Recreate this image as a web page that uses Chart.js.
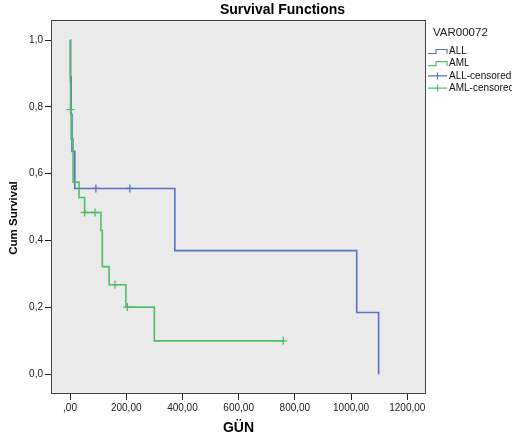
<!DOCTYPE html>
<html><head><meta charset="utf-8">
<script src="https://cdn.jsdelivr.net/npm/chart.js@4"></script>
<style>html,body{margin:0;padding:0;background:#fff;}</style>
</head><body>
<canvas id="c" width="512" height="443"></canvas>
<script>
// ---- data ----
const allTimes = [0, 2, 4, 7, 17, 373, 1020, 1098];
const allSurv  = [1, 0.889, 0.778, 0.667, 0.556, 0.370, 0.185, 0.0];
const allCensTimes = [92, 213];
const allCensSurv  = [0.556, 0.556];

const amlTimes = [0, 1, 2, 4, 11, 32, 52, 110, 115, 139, 199, 300, 759];
const amlSurv  = [1, 0.875, 0.792, 0.704, 0.575, 0.529, 0.484, 0.430, 0.322, 0.268, 0.201, 0.100, 0.100];
const amlCensTimes = [2, 52, 89, 160, 204, 759];
const amlCensSurv  = [0.792, 0.484, 0.484, 0.268, 0.201, 0.100];

const xTicks = [0, 200, 400, 600, 800, 1000, 1200];
const yTicks = [0, 0.2, 0.4, 0.6, 0.8, 1.0];
const seriesNames = ['ALL', 'AML', 'ALL-censored', 'AML-censored'];
const legendTitle = 'VAR00072';
const chartTitle = 'Survival Functions';
const xTitle = 'GÜN';
const yTitle = 'Cum Survival';

const BLUE = '#5A72C4';
const GREEN = '#52BD68';
const FONT = '"Liberation Sans", Arial, sans-serif';

const pts = (xs, ys) => xs.map((x, i) => ({x: x, y: ys[i]}));

const framePlugin = {
  id: 'frame',
  beforeDraw(chart) {
    const {ctx, chartArea: a} = chart;
    ctx.save();
    ctx.fillStyle = '#EAEAEA';
    ctx.fillRect(a.left, a.top, a.right - a.left, a.bottom - a.top);
    ctx.restore();
  },
  afterDraw(chart) {
    const {ctx, chartArea: a} = chart;
    ctx.save();
    ctx.strokeStyle = '#444';
    ctx.lineWidth = 1;
    ctx.strokeRect(a.left + 0.5, a.top + 0.5, a.right - a.left - 1, a.bottom - a.top - 1);
    // title
    ctx.fillStyle = '#000';
    ctx.font = 'bold 14px ' + FONT;
    ctx.textAlign = 'center';
    ctx.textBaseline = 'middle';
    ctx.fillText(chartTitle, 282.5, 10);
    // y axis title
    ctx.save();
    ctx.translate(14, 218);
    ctx.rotate(-Math.PI / 2);
    ctx.font = 'bold 11.5px ' + FONT;
    ctx.fillText(yTitle, 0, 0);
    ctx.restore();
    // legend
    ctx.font = '11.5px ' + FONT;
    ctx.textAlign = 'left';
    ctx.fillStyle = '#222';
    ctx.fillText(legendTitle, 433, 33);
    ctx.font = '10px ' + FONT;
    const colors = [BLUE, GREEN, BLUE, GREEN];
    seriesNames.forEach((name, i) => {
      const y = 51.5 + i * 12.2;
      ctx.strokeStyle = colors[i];
      ctx.lineWidth = 1.2;
      ctx.beginPath();
      if (i < 2) {
        ctx.moveTo(428, y + 2); ctx.lineTo(436, y + 2); ctx.lineTo(436, y - 2);
        ctx.lineTo(447, y - 2); ctx.lineTo(447, y + 2);
      } else {
        ctx.moveTo(428, y); ctx.lineTo(447, y);
        ctx.moveTo(437.5, y - 3.5); ctx.lineTo(437.5, y + 3.5);
      }
      ctx.stroke();
      ctx.fillStyle = '#111';
      ctx.fillText(name, 449, y);
    });
    ctx.restore();
  }
};

new Chart(document.getElementById('c'), {
  data: {
    datasets: [
      {type: 'scatter', label: seriesNames[3], data: pts(amlCensTimes, amlCensSurv), borderColor: GREEN, backgroundColor: GREEN, pointStyle: 'cross', pointRadius: 4, pointBorderWidth: 1.3, order: 0},
      {type: 'scatter', label: seriesNames[2], data: pts(allCensTimes, allCensSurv), borderColor: BLUE, backgroundColor: BLUE, pointStyle: 'cross', pointRadius: 4, pointBorderWidth: 1.3, order: 1},
      {type: 'line', label: seriesNames[1], data: pts(amlTimes, amlSurv), borderColor: GREEN, borderWidth: 1.6, stepped: 'before', pointRadius: 0, fill: false, order: 2},
      {type: 'line', label: seriesNames[0], data: pts(allTimes, allSurv), borderColor: BLUE, borderWidth: 1.6, stepped: 'before', pointRadius: 0, fill: false, order: 3}
    ]
  },
  options: {
    responsive: false,
    animation: false,
    devicePixelRatio: 1,
    layout: {padding: {top: 20, right: 86, left: 0, bottom: 0}},
    plugins: {legend: {display: false}, tooltip: {enabled: false}, title: {display: false}},
    scales: {
      x: {
        type: 'linear', min: -67.6, max: 1266.5,
        afterBuildTicks: s => { s.ticks = xTicks.map(v => ({value: v})); },
        afterFit: s => { s.height = 49; },
        ticks: {
          callback: v => v === 0 ? ',00' : v.toFixed(2).replace('.', ','),
          font: {family: FONT, size: 10}, color: '#222', padding: 2, maxRotation: 0, autoSkip: false
        },
        grid: {drawOnChartArea: false, drawTicks: true, tickLength: 6, tickColor: '#222', color: '#222'},
        border: {display: false},
        title: {display: true, text: xTitle, font: {family: FONT, size: 14, weight: 'bold'}, color: '#000', padding: {top: 0, bottom: 6}}
      },
      y: {
        type: 'linear', min: -0.059, max: 1.06,
        afterBuildTicks: s => { s.ticks = yTicks.map(v => ({value: v})); },
        afterFit: s => { s.width = 51; },
        ticks: {
          callback: v => v.toFixed(1).replace('.', ','),
          font: {family: FONT, size: 10}, color: '#222', padding: 2, autoSkip: false
        },
        grid: {drawOnChartArea: false, drawTicks: true, tickLength: 6, tickColor: '#222', color: '#222'},
        border: {display: false},
        title: {display: false}
      }
    }
  },
  plugins: [framePlugin]
});
</script>
</body></html>
